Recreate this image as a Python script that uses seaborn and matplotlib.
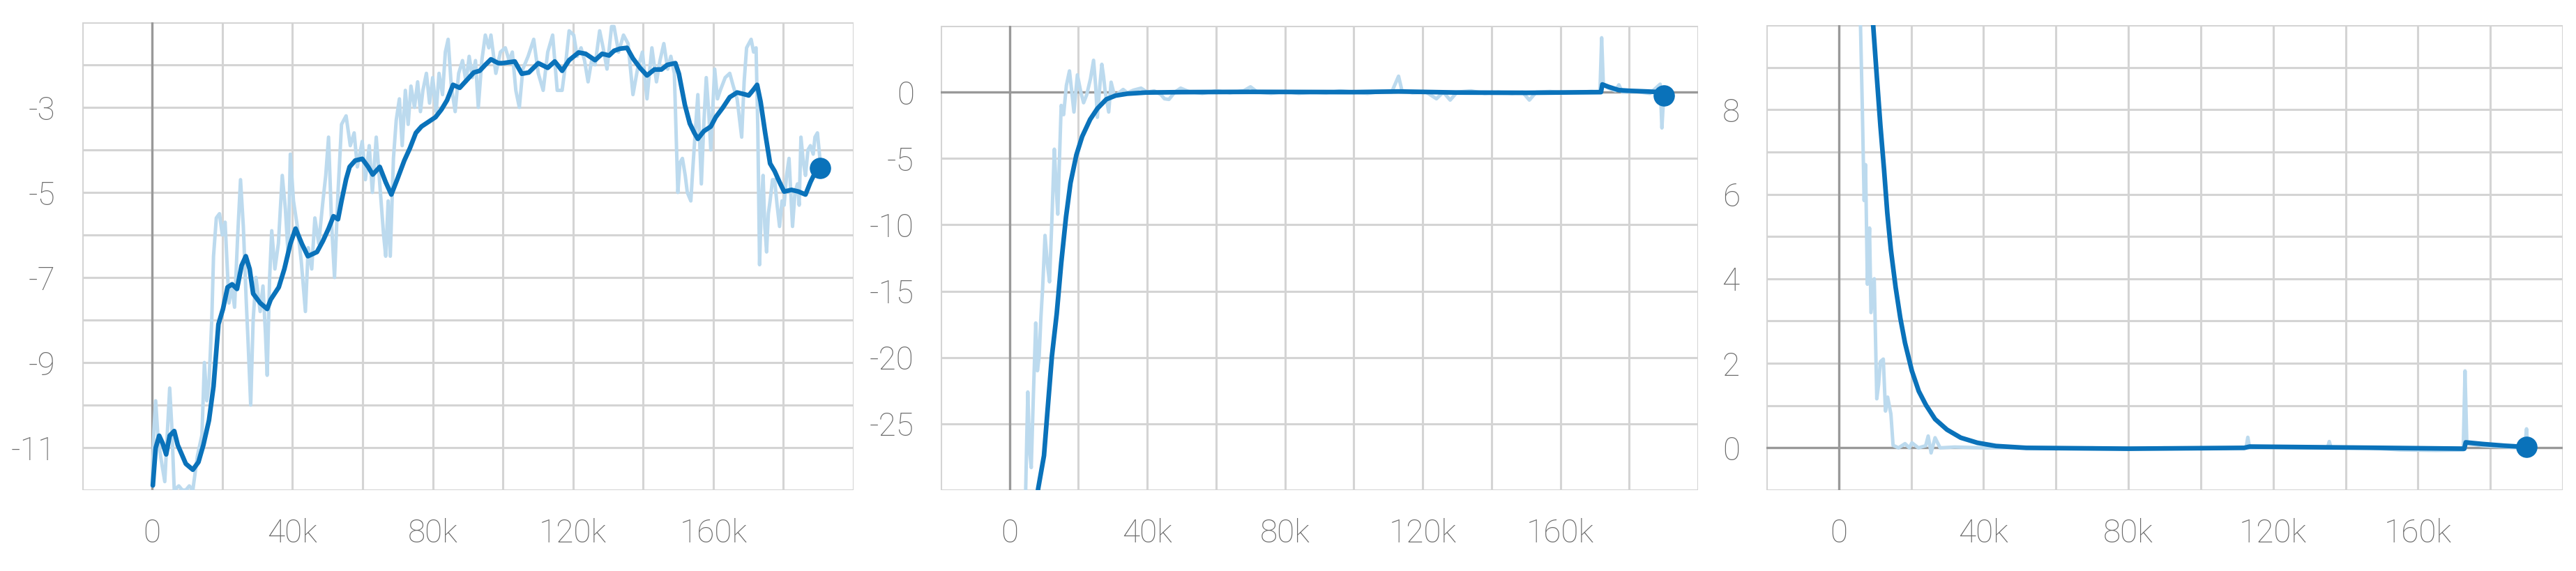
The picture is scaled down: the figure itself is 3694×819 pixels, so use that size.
"""
Three TensorBoard-style training curves (raw + smoothed), redrawn with seaborn.
Steps are kept in thousands.
"""
import numpy as np
import pandas as pd
import matplotlib
matplotlib.use("Agg")
import matplotlib.pyplot as plt
import seaborn as sns

# ---- panel 1 --------------------------------------------------------------
p1_raw_step = [0.0, 0.5, 1.0, 1.7, 2.6, 3.6, 4.3, 5.0, 5.6, 6.3, 7.6, 8.6, 9.6, 10.6, 11.6, 12.9,
               14.2, 14.9, 15.6, 16.2, 17.0, 17.5, 18.3, 19.2, 20.0, 20.8, 21.9, 22.7, 23.5, 24.4,
               25.2, 26.0, 26.8, 27.4, 28.1, 28.8, 29.6, 30.8, 31.6, 32.3, 32.8, 33.5, 34.1, 35.0,
               36.0, 37.1, 38.0, 38.8, 39.4, 40.3, 41.4, 42.5, 43.7, 44.5, 45.5, 46.4, 47.5, 48.7,
               49.5, 50.3, 51.2, 52.0, 53.0, 54.0, 55.3, 56.5, 57.6, 58.5, 59.9, 60.8, 61.9, 62.8,
               63.9, 65.0, 66.0, 66.6, 67.3, 67.9, 68.8, 69.6, 70.5, 71.3, 72.2, 73.0, 73.8, 74.8,
               75.7, 76.5, 77.2, 78.2, 79.1, 80.0, 81.0, 81.8, 82.8, 83.6, 84.4, 85.3, 86.4, 87.4,
               88.5, 89.5, 90.4, 91.3, 92.2, 93.0, 94.0, 95.0, 96.0, 96.6, 98.0, 99.3, 100.7, 101.8,
               102.7, 103.7, 104.7, 105.7, 107.2, 108.8, 110.1, 111.5, 112.8, 114.2, 115.5, 116.9,
               118.0, 118.9, 120.2, 121.2, 122.3, 123.3, 124.3, 125.3, 126.3, 127.6, 128.6, 129.7,
               131.0, 131.7, 133.0, 134.4, 135.7, 137.1, 138.4, 139.8, 141.1, 142.5, 143.8, 144.8,
               145.9, 147.0, 147.9, 148.9, 149.9, 150.5, 151.2, 152.0, 152.6, 153.6, 154.2, 154.6,
               155.6, 156.6, 157.3, 158.0, 158.7, 159.3, 160.4, 161.2, 162.0, 163.4, 164.7, 165.7,
               166.8, 168.1, 168.8, 169.5, 170.8, 171.5, 172.2, 172.7, 173.2, 173.7, 174.2, 174.7,
               175.2, 175.7, 176.2, 176.9, 177.5, 178.2, 178.9, 179.6, 180.2, 180.9, 181.6, 182.1,
               182.6, 183.3, 184.0, 184.5, 185.0, 185.7, 186.3, 187.0, 187.7, 188.5, 189.0, 189.7,
               190.4]
p1_raw = [-11.9, -10.6, -9.9, -10.8, -11.3, -11.8, -10.7, -9.6, -10.5, -12.0, -11.9, -12.0, -12.0,
          -11.9, -12.0, -11.2, -10.7, -9.0, -9.9, -9.5, -8.0, -6.5, -5.6, -5.5, -6.0, -5.7, -7.6,
          -7.2, -7.7, -6.0, -4.7, -5.8, -7.5, -8.6, -10.0, -8.0, -7.0, -7.8, -7.2, -8.3, -9.3,
          -7.0, -5.9, -6.8, -6.2, -4.6, -5.4, -6.5, -4.1, -5.2, -5.8, -6.6, -7.8, -6.3, -6.8,
          -5.6, -6.2, -5.2, -4.6, -3.7, -5.8, -7.0, -5.0, -3.4, -3.2, -3.9, -3.6, -4.4, -3.8,
          -4.7, -3.9, -5.0, -3.7, -4.9, -6.0, -6.5, -5.2, -6.5, -4.2, -3.3, -2.8, -3.9, -2.6,
          -3.4, -2.5, -3.0, -2.4, -3.1, -2.6, -2.2, -2.9, -2.3, -3.1, -2.2, -2.7, -1.7, -1.4,
          -2.5, -3.1, -2.2, -1.9, -2.4, -1.8, -2.3, -1.9, -3.0, -1.9, -1.3, -1.6, -1.3, -2.2,
          -1.7, -1.6, -1.9, -1.7, -2.6, -3.0, -2.1, -1.8, -1.4, -2.2, -2.6, -1.7, -1.3, -2.6,
          -2.6, -1.9, -1.2, -1.3, -1.8, -1.6, -1.9, -2.4, -1.9, -2.0, -1.2, -1.6, -2.1, -1.1,
          -1.1, -1.7, -1.3, -1.5, -2.7, -2.1, -1.7, -2.8, -1.6, -2.4, -1.9, -1.5, -2.1, -1.8,
          -2.2, -5.0, -4.3, -4.2, -4.6, -5.0, -5.2, -4.4, -3.9, -2.7, -4.8, -3.4, -2.3, -3.1,
          -4.0, -2.1, -2.8, -2.6, -2.3, -2.2, -2.5, -2.8, -3.7, -2.4, -1.6, -1.4, -1.7, -1.6,
          -3.5, -6.7, -5.3, -4.6, -5.8, -6.4, -5.5, -5.2, -4.7, -4.7, -5.3, -5.8, -5.2, -5.3,
          -4.6, -4.2, -5.0, -5.8, -5.0, -4.8, -5.3, -3.7, -4.3, -4.6, -4.0, -3.9, -4.1, -3.7,
          -3.6, -4.2]
p1_smooth_step = [0.2, 1.0, 2.0, 3.0, 4.0, 5.0, 6.3, 7.3, 9.6, 11.6, 13.2, 14.6, 16.2, 17.5, 18.9,
                  20.2, 21.5, 22.8, 24.2, 25.5, 26.7, 27.8, 28.8, 30.8, 32.8, 33.8, 36.1, 37.7,
                  39.4, 40.9, 42.7, 44.4, 47.0, 48.7, 50.3, 51.7, 53.0, 54.0, 55.3, 56.3, 57.9,
                  59.9, 61.6, 62.9, 64.9, 66.6, 68.2, 69.9, 71.9, 73.5, 75.2, 76.8, 78.8, 80.8,
                  82.5, 84.1, 85.8, 87.7, 89.7, 91.7, 93.4, 95.0, 96.6, 98.7, 100.0, 103.4, 105.4,
                  107.4, 110.1, 112.8, 114.8, 116.9, 118.9, 121.6, 123.6, 126.3, 128.3, 130.3,
                  131.7, 133.4, 135.4, 137.1, 139.1, 141.1, 143.2, 145.2, 146.9, 149.2, 150.2,
                  151.9, 153.3, 154.6, 155.6, 157.3, 159.3, 160.7, 162.7, 164.7, 166.8, 168.8,
                  170.1, 171.5, 172.5, 173.5, 174.8, 176.2, 177.5, 178.9, 180.2, 182.3, 184.3,
                  186.3, 187.7, 189.0, 190.4]
p1_smooth = [-11.89, -11.01, -10.72, -10.9, -11.16, -10.72, -10.61, -10.94, -11.38, -11.52, -11.34,
             -10.94, -10.36, -9.56, -8.1, -7.74, -7.23, -7.16, -7.27, -6.72, -6.5, -6.8, -7.38,
             -7.6, -7.74, -7.52, -7.23, -6.8, -6.21, -5.85, -6.21, -6.5, -6.4, -6.14, -5.85,
             -5.56, -5.63, -5.2, -4.69, -4.4, -4.25, -4.21, -4.4, -4.58, -4.4, -4.76, -5.05,
             -4.69, -4.25, -3.96, -3.6, -3.45, -3.34, -3.23, -3.05, -2.83, -2.47, -2.54, -2.36,
             -2.18, -2.14, -2.0, -1.87, -1.96, -1.96, -1.92, -2.21, -2.18, -1.96, -2.07, -1.92,
             -2.14, -1.89, -1.71, -1.74, -1.89, -1.74, -1.78, -1.67, -1.62, -1.6, -1.85, -2.07,
             -2.25, -2.11, -2.11, -2.0, -1.96, -2.21, -2.94, -3.38, -3.6, -3.74, -3.56, -3.45,
             -3.23, -3.01, -2.76, -2.65, -2.69, -2.72, -2.58, -2.47, -2.87, -3.6, -4.32, -4.5,
             -4.76, -4.98, -4.94, -4.98, -5.05, -4.76, -4.54, -4.43]

# ---- panel 2 --------------------------------------------------------------
p2_raw_step = [4.6, 5.0, 5.3, 5.8, 6.3, 6.9, 7.6, 8.1, 8.6, 9.1, 9.6, 10.3, 11.0, 11.6, 12.3, 13.0,
               13.5, 14.0, 14.5, 15.0, 15.7, 16.5, 17.4, 18.0, 18.7, 19.7, 20.7, 21.5, 22.4, 23.5,
               24.4, 25.0, 25.5, 26.2, 26.8, 27.3, 27.8, 28.8, 29.5, 30.5, 31.5, 33.0, 34.2, 36.0,
               38.2, 40.0, 42.0, 44.0, 45.0, 46.3, 48.0, 49.7, 52.0, 56, 60, 64, 68, 70, 72, 76,
               80, 84, 88, 92, 96, 100, 104, 108, 111, 113, 114, 117, 121, 124, 126, 128, 130,
               134, 138, 142, 146, 149, 151, 153, 157, 161, 165, 169, 171.5, 172.0, 172.5, 174,
               176, 177, 178, 182, 186, 189.0, 189.5, 190.0]
p2_raw = [-31, -26, -22.6, -27, -28.3, -23, -17.4, -21, -19.9, -17, -14.8, -10.8, -13, -14.3,
          -9.6, -4.3, -7, -9.2, -5, -1.0, -1.7, 0.5, 1.6, 0.2, -1.5, 1.3, 0.0, -0.8, -0.2, 1.0,
          2.4, 0.5, -1.9, 0.4, 2.1, 1.2, 0.0, -1.5, 0.75, -0.3, -0.1, 0.2, -0.05, 0.15, 0.3,
          0.0, 0.1, -0.2, -0.5, -0.55, 0.0, 0.3, 0.05, -0.1, 0.1, -0.05, 0.1, 0.4, 0.0, -0.1,
          0.05, -0.1, 0.0, -0.05, 0.1, 0.0, -0.1, 0.05, 0.0, 1.2, 0.1, -0.05, 0.0, -0.5, 0.0,
          -0.6, 0.0, 0.1, -0.1, 0.0, -0.1, 0.0, -0.6, 0.0, 0.05, -0.05, 0.0, 0.05, 0.0, 4.1,
          0.5, 0.3, 0.1, 0.55, 0.0, 0.05, -0.1, 0.6, -2.7, -0.4]
p2_smooth_step = [7.5, 8.3, 10.0, 11.0, 12.3, 13.7, 15.0, 16.4, 17.7, 19.4, 21.1, 23.4, 25.5, 28.1,
                  30.8, 34.2, 39.6, 50, 70, 100, 113, 130, 150, 171.8, 172.2, 174, 177, 180, 185,
                  189, 190]
p2_smooth = [-31.5, -29.9, -27.4, -24.1, -19.9, -16.7, -12.9, -9.4, -6.85, -4.74, -3.34, -2.06,
             -1.24, -0.54, -0.26, -0.12, -0.03, 0.0, 0.02, 0.0, 0.05, -0.03, -0.05, 0.0, 0.58,
             0.4, 0.15, 0.1, 0.05, 0.0, -0.25]

# ---- panel 3 --------------------------------------------------------------
p3_raw_step = [5.5, 6.0, 6.5, 7.0, 7.4, 7.9, 8.5, 8.9, 9.8, 10.5, 11.0, 11.5, 12.3, 12.9, 13.5,
               14.4, 15.0, 16.5, 18.3, 19.5, 20.2, 22, 24.0, 24.7, 25.5, 26.6, 28, 32, 40, 50,
               60, 70, 80, 90, 100, 110, 112.5, 113, 113.5, 120, 130, 135, 135.5, 136, 145, 155,
               165, 172.5, 173, 173.5, 178, 184, 189.5, 190, 190.3]
p3_raw = [11, 10.0, 8.05, 5.85, 6.7, 3.87, 5.2, 3.2, 4.0, 1.16, 1.5, 2.04, 2.1, 0.87, 1.2, 0.8,
          0.06, 0.0, 0.1, 0.0, 0.12, 0.0, 0.05, 0.28, -0.12, 0.24, 0.0, 0.02, 0.0, 0.01, -0.02,
          0.0, -0.03, 0.0, -0.02, 0.0, 0.0, 0.25, 0.0, 0.01, 0.0, 0.0, 0.15, 0.0, 0.01, -0.05,
          -0.06, -0.05, 1.82, 0.1, 0.05, 0.02, 0.0, 0.45, 0.0]
p3_smooth_step = [8.5, 9.5, 10.5, 11.5, 12.5, 13.4, 14.4, 15.7, 17.0, 18.3, 20.2, 22.1, 24.1,
                  26.6, 29.9, 33.7, 38.3, 43.4, 51.8, 80, 112, 113.5, 150, 172.8, 173.2, 178,
                  184, 190]
p3_smooth = [11.5, 10.0, 8.79, 7.62, 6.59, 5.56, 4.68, 3.80, 3.07, 2.48, 1.82, 1.34, 1.01, 0.68,
             0.43, 0.24, 0.12, 0.044, 0.0, -0.02, 0.0, 0.03, 0.0, -0.02, 0.13, 0.09, 0.05, 0.02]

# y axis settings per panel: limits, grid step, labelled values
p1_ylim, p1_ystep, p1_ylabels = (-12, -1), 1, [-11, -9, -7, -5, -3]
p2_ylim, p2_ystep, p2_ylabels = (-30, 5), 5, [-25, -20, -15, -10, -5, 0]
p3_ylim, p3_ystep, p3_ylabels = (-1, 10), 1, [0, 2, 4, 6, 8]

x_labelled = [0, 40, 80, 120, 160]

SMOOTH_C = "#0a72ba"
RAW_C = "#bcdaee"
GRID_C = "#d4d4d4"
ZERO_C = "#999999"
TEXT_C = "#6a6a6a"

sns.set_style("white")
plt.rcParams["font.family"] = ["Roboto", "DejaVu Sans"]
plt.rcParams["font.weight"] = "light"

fig = plt.figure(figsize=(36.94, 8.19), dpi=100)
rects = [
    [117.6 / 3694, 116 / 819, (1224 - 117.6) / 3694, (703 - 32) / 819],
    [1349 / 3694, 116 / 819, (2435 - 1349) / 3694, (703 - 37) / 819],
    [2533 / 3694, 116 / 819, (3675 - 2533) / 3694, (703 - 36) / 819],
]
panels = [
    (p1_raw_step, p1_raw, p1_smooth_step, p1_smooth, p1_ylim, p1_ystep, p1_ylabels),
    (p2_raw_step, p2_raw, p2_smooth_step, p2_smooth, p2_ylim, p2_ystep, p2_ylabels),
    (p3_raw_step, p3_raw, p3_smooth_step, p3_smooth, p3_ylim, p3_ystep, p3_ylabels),
]

for rect, (rs, rv, ss, sv, ylim, ystep, ylab) in zip(rects, panels):
    ax = fig.add_axes(rect)
    raw_df = pd.DataFrame({"step": rs, "value": rv})
    sm_df = pd.DataFrame({"step": ss, "value": sv})

    # zero axes, darker than the grid
    if ylim[0] < 0 < ylim[1]:
        ax.axhline(0, color=ZERO_C, lw=2.4, zorder=1.5)
    ax.axvline(0, color=ZERO_C, lw=2.4, zorder=1.5)

    sns.lineplot(data=raw_df, x="step", y="value", ax=ax, color=RAW_C, lw=3.6,
                 estimator=None, sort=False, zorder=2)
    sns.lineplot(data=sm_df, x="step", y="value", ax=ax, color=SMOOTH_C, lw=4.8,
                 estimator=None, sort=False, zorder=3)
    ax.plot(sm_df["step"].iloc[-1], sm_df["value"].iloc[-1], "o", color=SMOOTH_C,
            ms=21, zorder=4, clip_on=False)

    ax.set_xlim(-20, 200)
    ax.set_ylim(*ylim)
    xt = np.arange(-20, 201, 20)
    ax.set_xticks(xt)
    ax.set_xticklabels([(f"{v}k" if v else "0") if v in x_labelled else "" for v in xt])
    yt = np.arange(ylim[0], ylim[1] + ystep / 2, ystep)
    ax.set_yticks(yt)
    ax.set_yticklabels([f"{int(v)}" if int(v) in ylab else "" for v in yt])

    ax.grid(True, color=GRID_C, lw=2.2, zorder=0)
    ax.set_axisbelow(True)
    for s in ax.spines.values():
        s.set_visible(False)
    ax.tick_params(axis="both", direction="out", length=13.5, width=2.2, color=GRID_C,
                   labelsize=33, labelcolor=TEXT_C)
    ax.tick_params(axis="x", pad=15)
    ax.tick_params(axis="y", pad=14)
    ax.set_xlabel("")
    ax.set_ylabel("")

fig.savefig("out.png", dpi=100)
